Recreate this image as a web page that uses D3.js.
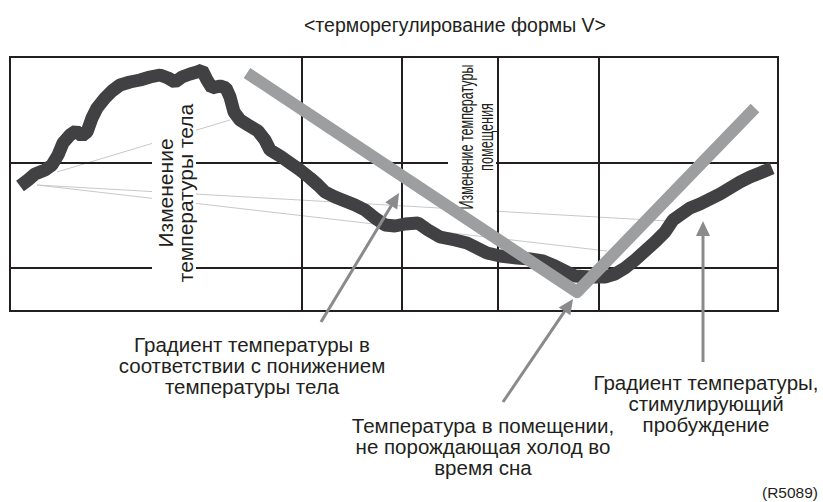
<!DOCTYPE html>
<html>
<head>
<meta charset="utf-8">
<script src="https://cdn.jsdelivr.net/npm/d3@7"></script>
<style>
  html, body { margin: 0; padding: 0; background: #fff; }
  svg { display: block; }
  text { font-family: "Liberation Sans", Arial, sans-serif; fill: #231f20; }
</style>
</head>
<body>
<svg id="chart" width="823" height="502"></svg>
<script>
// Time runs along x (0..768), temperature level along y (0..254, bottom to top).
const gridTimes = [292, 392, 488, 589];
const gridLevels = [148, 43];

// Body temperature trace
const bodyTime = [10,18,25,35,42,48,53,60,66,72,77,82,87,95,102,110,120,130,140,150,158,165,172,180,187,192,197,202,210,216,220,224,230,238,248,255,260,270,280,290,300,308,315,325,335,345,355,365,375,385,395,408,418,430,445,457,467,477,490,507,520,533,545,557,565,580,595,605,615,625,635,645,655,663,670,680,690,700,710,720,730,740,750,762];
const bodyLevel = [125,131,137,141,146,156,168,176,180,175,179,193,203,213,220,226,229,231,234,236,233,229,234,237,239,241,231,223,225,223,214,199,191,186,180,171,161,155,148,141,133,126,119,114,110,106,101,93,86,85,87,88,81,74,71,68,63,58,55,53,52,50,45,39,35,34,34,37,43,51,60,69,79,91,96,103,107,112,117,123,129,134,138,143];

// Room temperature setting (V shape)
const roomTime = [237, 567, 745];
const roomLevel = [238, 19, 203];

// Thin leader lines from the body-temperature label
const leaders = [
  [[27,126],[657,90]],
  [[27,126],[597,60]],
  [[47,139],[220,191]]
];

// Callout arrows: tail -> tip
const arrows = [
  [[311,-11],[389,118]],
  [[493,-91],[563,12]],
  [[693,-51],[693,90]]
];

const titleText = "<терморегулирование формы V>";
const bodyLabel = ["Изменение", "температуры тела"];
const roomLabel = ["Изменение температуры", "помещения"];
const roomLabelWidths = [145, 68];
const calloutTexts = [
  { lines: ["Градиент температуры в", "соответствии с понижением", "температуры тела"], x: 252, y: 352 },
  { lines: ["Температура в помещении,", "не порождающая холод во", "время сна"], x: 483, y: 433 },
  { lines: ["Градиент температуры,", "стимулирующий", "пробуждение"], x: 706, y: 390 }
];
const codeText = "(R5089)";

const svg = d3.select("#chart");
const x = d3.scaleLinear().domain([0, 768]).range([10, 778]);
const y = d3.scaleLinear().domain([0, 254]).range([311, 57]);

const gridColor = "#231f20";

// Leader lines (behind everything)
svg.append("g").selectAll("line").data(leaders).join("line")
  .attr("x1", d => x(d[0][0])).attr("y1", d => y(d[0][1]))
  .attr("x2", d => x(d[1][0])).attr("y2", d => y(d[1][1]))
  .attr("stroke", "#c8c8c8").attr("stroke-width", 1);

// Grid
const g = svg.append("g");
g.selectAll(".v").data(gridTimes).join("line")
  .attr("x1", d => x(d)).attr("x2", d => x(d))
  .attr("y1", y(0)).attr("y2", y(254))
  .attr("stroke", gridColor).attr("stroke-width", 2);
g.selectAll(".h").data(gridLevels).join("line")
  .attr("x1", x(0)).attr("x2", x(768))
  .attr("y1", d => y(d)).attr("y2", d => y(d))
  .attr("stroke", gridColor).attr("stroke-width", 2);
g.append("rect")
  .attr("x", x(0)).attr("y", y(254))
  .attr("width", x(768) - x(0)).attr("height", y(0) - y(254))
  .attr("fill", "none").attr("stroke", gridColor).attr("stroke-width", 2);

// Rotated label: body temperature change
const lab1 = svg.append("g").attr("transform", "translate(173,193) rotate(-90)");
lab1.append("rect").attr("x", -93).attr("y", -21).attr("width", 186).attr("height", 44).attr("fill", "#fff");
bodyLabel.forEach((t, i) => {
  lab1.append("text").attr("text-anchor", "middle").attr("y", i * 20)
    .attr("font-size", 21).text(t);
});

// Rotated label: room temperature change, set in a narrow face
const lab2 = svg.append("g").attr("transform", "translate(473,137) rotate(-90)");
lab2.append("rect").attr("x", -77).attr("y", -25).attr("width", 152).attr("height", 48).attr("fill", "#fff");
roomLabel.forEach((t, i) => {
  const row = lab2.append("g").attr("transform", `translate(0,${i * 20})`);
  const txt = row.append("text").attr("text-anchor", "middle")
    .attr("font-size", 21).text(t);
  const w = txt.node().getComputedTextLength();
  txt.attr("transform", `scale(${roomLabelWidths[i] / w},1)`);
});

// Body temperature trace
const bodyData = bodyTime.map((t, i) => [t, bodyLevel[i]]);
svg.append("path")
  .datum(bodyData)
  .attr("d", d3.line().x(d => x(d[0])).y(d => y(d[1])))
  .attr("fill", "none").attr("stroke", "#414042").attr("stroke-width", 13)
  .attr("stroke-linejoin", "bevel").attr("stroke-linecap", "butt");

// Room temperature V
const roomData = roomTime.map((t, i) => [t, roomLevel[i]]);
svg.append("path")
  .datum(roomData)
  .attr("d", d3.line().x(d => x(d[0])).y(d => y(d[1])))
  .attr("fill", "none").attr("stroke", "#9d9ea0").attr("stroke-width", 12)
  .attr("stroke-linejoin", "round").attr("stroke-linecap", "butt");

// Callout arrows
const arrowColor = "#8a8a8c";
const ag = svg.append("g");
arrows.forEach(([a, b]) => {
  const x1 = x(a[0]), y1 = y(a[1]), x2 = x(b[0]), y2 = y(b[1]);
  const ang = Math.atan2(y2 - y1, x2 - x1);
  const headLen = 15, headW = 7;
  const bx = x2 - headLen * Math.cos(ang), by = y2 - headLen * Math.sin(ang);
  ag.append("line").attr("x1", x1).attr("y1", y1).attr("x2", bx).attr("y2", by)
    .attr("stroke", arrowColor).attr("stroke-width", 3);
  const px = -Math.sin(ang) * headW, py = Math.cos(ang) * headW;
  ag.append("path")
    .attr("d", `M${x2},${y2}L${bx + px},${by + py}L${bx - px},${by - py}Z`)
    .attr("fill", arrowColor);
});

// Title
svg.append("text").attr("x", 455).attr("y", 32).attr("text-anchor", "middle")
  .attr("font-size", 19.5).text(titleText);

// Callout texts
calloutTexts.forEach(c => {
  const t = svg.append("text").attr("text-anchor", "middle").attr("font-size", 20.5);
  c.lines.forEach((ln, i) => {
    t.append("tspan").attr("x", c.x).attr("y", c.y + i * 20.8).text(ln);
  });
});

svg.append("text").attr("x", 818).attr("y", 498).attr("text-anchor", "end")
  .attr("font-size", 15.5).text(codeText);
</script>
</body>
</html>
